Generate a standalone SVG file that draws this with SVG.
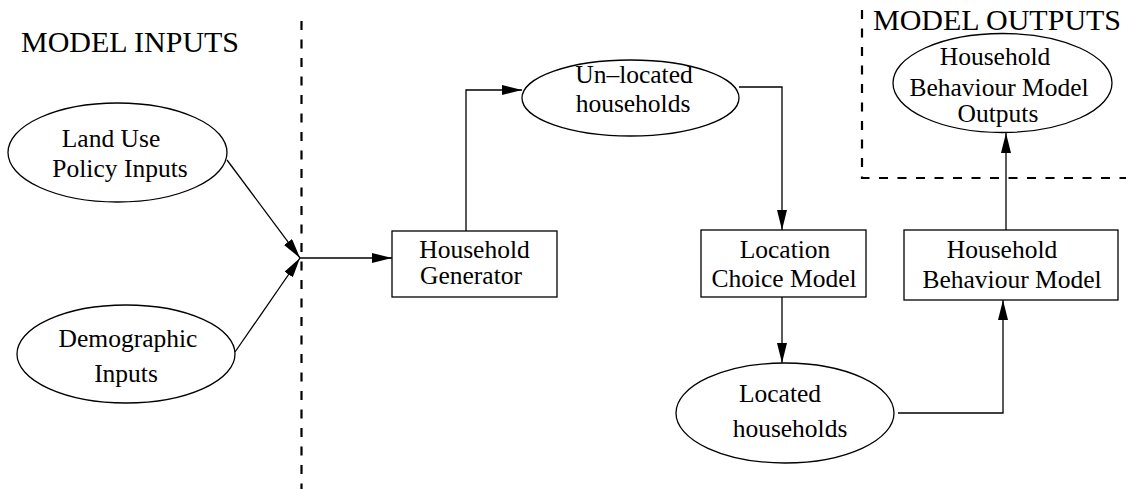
<svg xmlns="http://www.w3.org/2000/svg" width="1126" height="489" viewBox="0 0 1126 489">
<style>
.n{fill:#fff;stroke:#000;stroke-width:1.3}
.t{font-family:"Liberation Serif","Times New Roman",serif;font-size:25.5px;fill:#000;text-anchor:middle}
.h{font-family:"Liberation Serif","Times New Roman",serif;font-size:30px;fill:#000}
.c{fill:none;stroke:#000;stroke-width:1.3}
.d{fill:none;stroke:#000;stroke-width:2.2;stroke-dasharray:9 9.5}
</style>
<defs>
<marker id="a" markerWidth="20" markerHeight="10" refX="20" refY="5" orient="auto" markerUnits="userSpaceOnUse">
<path d="M0,0 L20,5 L0,10 Z" fill="#000"/>
</marker>
</defs>
<g id="regions">
<line class="d" x1="301.5" y1="21" x2="301.5" y2="489"/>
<polyline class="d" points="862,10 862,178 1126,178"/>
<text class="h" x="21" y="52">MODEL INPUTS</text>
<text class="h" x="873" y="30">MODEL OUTPUTS</text>
</g>
<g id="connectors">
<line class="c" x1="227" y1="160" x2="300" y2="258" marker-end="url(#a)"/>
<line class="c" x1="235" y1="352" x2="300" y2="258" marker-end="url(#a)"/>
<line class="c" x1="300" y1="258" x2="392" y2="258" marker-end="url(#a)"/>
<polyline class="c" points="466,231 466,90 522,90" marker-end="url(#a)"/>
<polyline class="c" points="739,87 782,87 782,230" marker-end="url(#a)"/>
<line class="c" x1="782" y1="297" x2="782" y2="363" marker-end="url(#a)"/>
<polyline class="c" points="898,413 1003,413 1003,300" marker-end="url(#a)"/>
<line class="c" x1="1006" y1="230" x2="1006" y2="133" marker-end="url(#a)"/>
</g>
<g id="land-use">
<ellipse class="n" cx="117.5" cy="152.5" rx="109.5" ry="49.5"/>
<text class="t" x="111" y="147">Land Use</text>
<text class="t" x="120" y="177">Policy Inputs</text>
</g>
<g id="demographic">
<ellipse class="n" cx="126" cy="354" rx="109" ry="49"/>
<text class="t" x="128" y="347">Demographic</text>
<text class="t" x="126" y="382">Inputs</text>
</g>
<g id="household-generator">
<rect class="n" x="392" y="231" width="165" height="66"/>
<text class="t" x="474.5" y="258">Household</text>
<text class="t" x="471" y="284">Generator</text>
</g>
<g id="unlocated">
<ellipse class="n" cx="630.5" cy="98" rx="108.5" ry="38"/>
<text class="t" x="634" y="83">Un–located</text>
<text class="t" x="633" y="112">households</text>
</g>
<g id="location-choice">
<rect class="n" x="701" y="230" width="165" height="67"/>
<text class="t" x="785" y="258">Location</text>
<text class="t" x="784" y="287">Choice Model</text>
</g>
<g id="located">
<ellipse class="n" cx="785" cy="413" rx="109" ry="50"/>
<text class="t" x="780" y="402">Located</text>
<text class="t" x="790" y="437">households</text>
</g>
<g id="household-behaviour">
<rect class="n" x="904" y="230" width="214" height="70"/>
<text class="t" x="1002" y="258">Household</text>
<text class="t" x="1012" y="288">Behaviour Model</text>
</g>
<g id="outputs">
<ellipse class="n" cx="1002.5" cy="83" rx="109.5" ry="49.5"/>
<text class="t" x="995" y="65">Household</text>
<text class="t" x="999" y="96">Behaviour Model</text>
<text class="t" x="998" y="122">Outputs</text>
</g>
</svg>
